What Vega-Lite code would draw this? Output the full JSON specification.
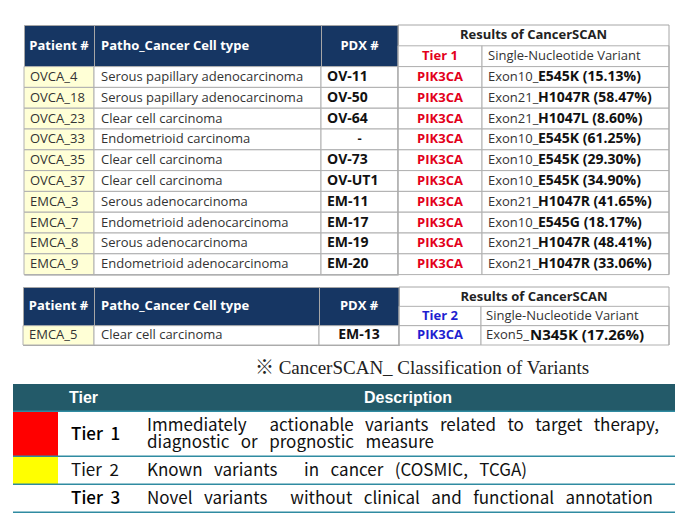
{
  "$schema": "https://vega.github.io/schema/vega-lite/v6.json",
  "padding": {"left": 12, "top": 24, "right": 0, "bottom": 4},
  "background": "white",
  "config": {"view": {"stroke": null}, "concat": {"spacing": 0}, "text": {"font": "Open Sans", "fontSize": 13, "color": "#333333"}},
  "datasets": {
    "t1": [
      {"r": "h", "patient": "Patient #", "patho": "Patho_Cancer Cell type", "pdx": "PDX #", "res": "Results of CancerSCAN"},
      {"r": "h2", "gene": "Tier 1", "exon": "Single-Nucleotide Variant"},
      {"r": "1", "patient": "OVCA_4", "patho": "Serous papillary adenocarcinoma", "pdx": "OV-11", "gene": "PIK3CA", "exon": "Exon10_", "mut": "E545K (15.13%)"},
      {"r": "2", "patient": "OVCA_18", "patho": "Serous papillary adenocarcinoma", "pdx": "OV-50", "gene": "PIK3CA", "exon": "Exon21_", "mut": "H1047R (58.47%)"},
      {"r": "3", "patient": "OVCA_23", "patho": "Clear cell carcinoma", "pdx": "OV-64", "gene": "PIK3CA", "exon": "Exon21_", "mut": "H1047L (8.60%)"},
      {"r": "4", "patient": "OVCA_33", "patho": "Endometrioid carcinoma", "pdx": "-", "gene": "PIK3CA", "exon": "Exon10_", "mut": "E545K (61.25%)"},
      {"r": "5", "patient": "OVCA_35", "patho": "Clear cell carcinoma", "pdx": "OV-73", "gene": "PIK3CA", "exon": "Exon10_", "mut": "E545K (29.30%)"},
      {"r": "6", "patient": "OVCA_37", "patho": "Clear cell carcinoma", "pdx": "OV-UT1", "gene": "PIK3CA", "exon": "Exon10_", "mut": "E545K (34.90%)"},
      {"r": "7", "patient": "EMCA_3", "patho": "Serous adenocarcinoma", "pdx": "EM-11", "gene": "PIK3CA", "exon": "Exon21_", "mut": "H1047R (41.65%)"},
      {"r": "8", "patient": "EMCA_7", "patho": "Endometrioid adenocarcinoma", "pdx": "EM-17", "gene": "PIK3CA", "exon": "Exon10_", "mut": "E545G (18.17%)"},
      {"r": "9", "patient": "EMCA_8", "patho": "Serous adenocarcinoma", "pdx": "EM-19", "gene": "PIK3CA", "exon": "Exon21_", "mut": "H1047R (48.41%)"},
      {"r": "10", "patient": "EMCA_9", "patho": "Endometrioid adenocarcinoma", "pdx": "EM-20", "gene": "PIK3CA", "exon": "Exon21_", "mut": "H1047R (33.06%)"}
    ],
    "t2": [
      {"r": "h", "patient": "Patient #", "patho": "Patho_Cancer Cell type", "pdx": "PDX #", "res": "Results of CancerSCAN"},
      {"r": "h2", "gene": "Tier 2", "exon": "Single-Nucleotide Variant"},
      {"r": "1", "patient": "EMCA_5", "patho": "Clear cell carcinoma", "pdx": "EM-13", "gene": "PIK3CA", "exon": "Exon5_", "mut": "N345K (17.26%)"}
    ],
    "t3": [
      {"r": "h", "tier": "Tier", "desc": "Description"},
      {"r": "1", "tier": "Tier\u00a0\u00a01", "desc": ["Immediately\u00a0\u00a0\u00a0\u00a0\u00a0 actionable\u00a0\u00a0 variants\u00a0\u00a0 related\u00a0\u00a0 to\u00a0\u00a0 target\u00a0\u00a0 therapy,", "diagnostic\u00a0\u00a0 or\u00a0\u00a0 prognostic\u00a0\u00a0 measure"]},
      {"r": "2", "tier": "Tier\u00a0\u00a02", "desc": "Known\u00a0\u00a0 variants\u00a0\u00a0\u00a0\u00a0\u00a0\u00a0 in\u00a0\u00a0 cancer\u00a0\u00a0 (COSMIC,\u00a0\u00a0 TCGA)"},
      {"r": "3", "tier": "Tier\u00a0\u00a03", "desc": "Novel\u00a0\u00a0 variants\u00a0\u00a0\u00a0\u00a0\u00a0 without\u00a0\u00a0 clinical\u00a0\u00a0 and\u00a0\u00a0 functional\u00a0\u00a0 annotation"}
    ],
    "cap": [{"t": "※ CancerSCAN_ Classification of Variants"}]
  },
  "vconcat": [
    {
      "spacing": 10,
      "vconcat": [
        {
          "spacing": 0, "bounds": "flush",
          "hconcat": [
            {"width": 11, "height": 10, "data": {"values": []}, "mark": "point", "encoding": {}},
            {
              "width": 70, "height": 249.6, "view": {"stroke": "#a6a6a6", "fill": "#163663"}, "data": {"name": "t1"},
              "layer": [
                {"transform": [{"filter": "datum.r != 'h' && datum.r != 'h2'"}], "mark": {"type": "rect", "fill": "#ffffd6", "stroke": "#b0b0b0", "strokeWidth": 1},
                 "encoding": {"x": {"datum": "c", "type": "nominal", "axis": null, "scale": {"type": "band", "paddingInner": 0, "paddingOuter": 0}},
                              "y": {"field": "r", "type": "nominal", "axis": null, "scale": {"type": "band", "domain": ["h", "h2", "1", "2", "3", "4", "5", "6", "7", "8", "9", "10"], "paddingInner": 0, "paddingOuter": 0}}}},
                {"transform": [{"filter": "datum.r == 'h'"}], "mark": {"type": "text", "color": "white", "fontWeight": "bold"},
                 "encoding": {"x": {"datum": "c", "type": "nominal", "axis": null},
                              "y": {"field": "r", "type": "nominal", "axis": null, "bandPosition": 1},
                              "text": {"field": "patient"}}},
                {"transform": [{"filter": "datum.r != 'h' && datum.r != 'h2'"}], "mark": {"type": "text", "align": "left", "dx": 6},
                 "encoding": {"x": {"datum": "c", "type": "nominal", "axis": null, "bandPosition": 0},
                              "y": {"field": "r", "type": "nominal", "axis": null},
                              "text": {"field": "patient"}}}
              ]
            },
            {
              "width": 227, "height": 249.6, "view": {"stroke": "#a6a6a6", "fill": "#163663"}, "data": {"name": "t1"},
              "layer": [
                {"transform": [{"filter": "datum.r != 'h' && datum.r != 'h2'"}], "mark": {"type": "rect", "fill": "white", "stroke": "#b0b0b0", "strokeWidth": 1},
                 "encoding": {"x": {"datum": "c", "type": "nominal", "axis": null, "scale": {"type": "band", "paddingInner": 0, "paddingOuter": 0}},
                              "y": {"field": "r", "type": "nominal", "axis": null, "scale": {"type": "band", "domain": ["h", "h2", "1", "2", "3", "4", "5", "6", "7", "8", "9", "10"], "paddingInner": 0, "paddingOuter": 0}}}},
                {"transform": [{"filter": "datum.r == 'h'"}], "mark": {"type": "text", "color": "white", "fontWeight": "bold", "align": "left", "dx": 7},
                 "encoding": {"x": {"datum": "c", "type": "nominal", "axis": null, "bandPosition": 0},
                              "y": {"field": "r", "type": "nominal", "axis": null, "bandPosition": 1},
                              "text": {"field": "patho"}}},
                {"transform": [{"filter": "datum.r != 'h' && datum.r != 'h2'"}], "mark": {"type": "text", "align": "left", "dx": 7},
                 "encoding": {"x": {"datum": "c", "type": "nominal", "axis": null, "bandPosition": 0},
                              "y": {"field": "r", "type": "nominal", "axis": null},
                              "text": {"field": "patho"}}}
              ]
            },
            {
              "width": 77, "height": 249.6, "view": {"stroke": "#a6a6a6", "fill": "#163663"}, "data": {"name": "t1"},
              "layer": [
                {"transform": [{"filter": "datum.r != 'h' && datum.r != 'h2'"}], "mark": {"type": "rect", "fill": "white", "stroke": "#b0b0b0", "strokeWidth": 1},
                 "encoding": {"x": {"datum": "c", "type": "nominal", "axis": null, "scale": {"type": "band", "paddingInner": 0, "paddingOuter": 0}},
                              "y": {"field": "r", "type": "nominal", "axis": null, "scale": {"type": "band", "domain": ["h", "h2", "1", "2", "3", "4", "5", "6", "7", "8", "9", "10"], "paddingInner": 0, "paddingOuter": 0}}}},
                {"transform": [{"filter": "datum.r == 'h'"}], "mark": {"type": "text", "color": "white", "fontWeight": "bold"},
                 "encoding": {"x": {"datum": "c", "type": "nominal", "axis": null},
                              "y": {"field": "r", "type": "nominal", "axis": null, "bandPosition": 1},
                              "text": {"field": "pdx"}}},
                {"transform": [{"filter": "datum.r != 'h' && datum.r != 'h2' && datum.pdx != '-'"}], "mark": {"type": "text", "align": "left", "dx": 6, "fontWeight": "bold", "fontSize": 14, "color": "#111111"},
                 "encoding": {"x": {"datum": "c", "type": "nominal", "axis": null, "bandPosition": 0},
                              "y": {"field": "r", "type": "nominal", "axis": null},
                              "text": {"field": "pdx"}}},
                {"transform": [{"filter": "datum.pdx == '-'"}], "mark": {"type": "text", "fontWeight": "bold", "color": "#111111"},
                 "encoding": {"x": {"datum": "c", "type": "nominal", "axis": null},
                              "y": {"field": "r", "type": "nominal", "axis": null},
                              "text": {"field": "pdx"}}}
              ]
            },
            {
              "width": 84, "height": 249.6, "data": {"name": "t1"},
              "layer": [
                {"transform": [{"filter": "datum.r != 'h'"}], "mark": {"type": "rect", "fill": "white", "stroke": "#b0b0b0", "strokeWidth": 1},
                 "encoding": {"x": {"datum": "c", "type": "nominal", "axis": null, "scale": {"type": "band", "paddingInner": 0, "paddingOuter": 0}},
                              "y": {"field": "r", "type": "nominal", "axis": null, "scale": {"type": "band", "domain": ["h", "h2", "1", "2", "3", "4", "5", "6", "7", "8", "9", "10"], "paddingInner": 0, "paddingOuter": 0}}}},
                {"transform": [{"filter": "datum.r == 'h'"}], "mark": {"type": "rule", "color": "#a6a6a6", "strokeWidth": 1},
                 "encoding": {"y": {"field": "r", "type": "nominal", "axis": null, "bandPosition": 0}}},
                {"transform": [{"filter": "datum.r == 'h'"}], "mark": {"type": "rule", "color": "#a6a6a6", "strokeWidth": 1},
                 "encoding": {"x": {"datum": "c", "type": "nominal", "axis": null, "bandPosition": 0}}},
                {"transform": [{"filter": "datum.r != 'h'"}], "mark": {"type": "text", "color": "#e3001b", "fontWeight": "bold"},
                 "encoding": {"x": {"datum": "c", "type": "nominal", "axis": null},
                              "y": {"field": "r", "type": "nominal", "axis": null},
                              "text": {"field": "gene"}}}
              ]
            },
            {
              "width": 187, "height": 249.6, "data": {"name": "t1"},
              "layer": [
                {"transform": [{"filter": "datum.r != 'h'"}], "mark": {"type": "rect", "fill": "white", "stroke": "#b0b0b0", "strokeWidth": 1},
                 "encoding": {"x": {"datum": "c", "type": "nominal", "axis": null, "scale": {"type": "band", "paddingInner": 0, "paddingOuter": 0}},
                              "y": {"field": "r", "type": "nominal", "axis": null, "scale": {"type": "band", "domain": ["h", "h2", "1", "2", "3", "4", "5", "6", "7", "8", "9", "10"], "paddingInner": 0, "paddingOuter": 0}}}},
                {"transform": [{"filter": "datum.r == 'h'"}], "mark": {"type": "rule", "color": "#a6a6a6", "strokeWidth": 1},
                 "encoding": {"y": {"field": "r", "type": "nominal", "axis": null, "bandPosition": 0}}},
                {"transform": [{"filter": "datum.r == 'h'"}], "mark": {"type": "rule", "color": "#a6a6a6", "strokeWidth": 1},
                 "encoding": {"x": {"datum": "c", "type": "nominal", "axis": null, "bandPosition": 1}}},
                {"transform": [{"filter": "datum.r == 'h'"}], "mark": {"type": "text", "fontWeight": "bold", "color": "#222222", "dx": -42},
                 "encoding": {"x": {"datum": "c", "type": "nominal", "axis": null},
                              "y": {"field": "r", "type": "nominal", "axis": null},
                              "text": {"field": "res"}}},
                {"transform": [{"filter": "datum.r != 'h'"}], "mark": {"type": "text", "align": "left", "dx": 6},
                 "encoding": {"x": {"datum": "c", "type": "nominal", "axis": null, "bandPosition": 0},
                              "y": {"field": "r", "type": "nominal", "axis": null},
                              "text": {"field": "exon"}}},
                {"transform": [{"filter": "datum.r != 'h' && datum.r != 'h2'"}], "mark": {"type": "text", "align": "left", "dx": 56, "fontWeight": "bold", "fontSize": 14, "color": "#111111"},
                 "encoding": {"x": {"datum": "c", "type": "nominal", "axis": null, "bandPosition": 0},
                              "y": {"field": "r", "type": "nominal", "axis": null},
                              "text": {"field": "mut"}}}
              ]
            }
          ]
        },
        {
          "spacing": 0, "bounds": "flush",
          "hconcat": [
            {"width": 10, "height": 10, "data": {"values": []}, "mark": "point", "encoding": {}},
            {
              "width": 71, "height": 58, "view": {"stroke": "#a6a6a6", "fill": "#163663"}, "data": {"name": "t2"},
              "layer": [
                {"transform": [{"filter": "datum.r != 'h' && datum.r != 'h2'"}], "mark": {"type": "rect", "fill": "#ffffd6", "stroke": "#b0b0b0", "strokeWidth": 1},
                 "encoding": {"x": {"datum": "c", "type": "nominal", "axis": null, "scale": {"type": "band", "paddingInner": 0, "paddingOuter": 0}},
                              "y": {"field": "r", "type": "nominal", "axis": null, "scale": {"type": "band", "domain": ["h", "h2", "1"], "paddingInner": 0, "paddingOuter": 0}}}},
                {"transform": [{"filter": "datum.r == 'h'"}], "mark": {"type": "text", "color": "white", "fontWeight": "bold"},
                 "encoding": {"x": {"datum": "c", "type": "nominal", "axis": null},
                              "y": {"field": "r", "type": "nominal", "axis": null, "bandPosition": 1},
                              "text": {"field": "patient"}}},
                {"transform": [{"filter": "datum.r != 'h' && datum.r != 'h2'"}], "mark": {"type": "text", "align": "left", "dx": 6},
                 "encoding": {"x": {"datum": "c", "type": "nominal", "axis": null, "bandPosition": 0},
                              "y": {"field": "r", "type": "nominal", "axis": null},
                              "text": {"field": "patient"}}}
              ]
            },
            {
              "width": 225, "height": 58, "view": {"stroke": "#a6a6a6", "fill": "#163663"}, "data": {"name": "t2"},
              "layer": [
                {"transform": [{"filter": "datum.r != 'h' && datum.r != 'h2'"}], "mark": {"type": "rect", "fill": "white", "stroke": "#b0b0b0", "strokeWidth": 1},
                 "encoding": {"x": {"datum": "c", "type": "nominal", "axis": null, "scale": {"type": "band", "paddingInner": 0, "paddingOuter": 0}},
                              "y": {"field": "r", "type": "nominal", "axis": null, "scale": {"type": "band", "domain": ["h", "h2", "1"], "paddingInner": 0, "paddingOuter": 0}}}},
                {"transform": [{"filter": "datum.r == 'h'"}], "mark": {"type": "text", "color": "white", "fontWeight": "bold", "align": "left", "dx": 7},
                 "encoding": {"x": {"datum": "c", "type": "nominal", "axis": null, "bandPosition": 0},
                              "y": {"field": "r", "type": "nominal", "axis": null, "bandPosition": 1},
                              "text": {"field": "patho"}}},
                {"transform": [{"filter": "datum.r != 'h' && datum.r != 'h2'"}], "mark": {"type": "text", "align": "left", "dx": 7},
                 "encoding": {"x": {"datum": "c", "type": "nominal", "axis": null, "bandPosition": 0},
                              "y": {"field": "r", "type": "nominal", "axis": null},
                              "text": {"field": "patho"}}}
              ]
            },
            {
              "width": 80, "height": 58, "view": {"stroke": "#a6a6a6", "fill": "#163663"}, "data": {"name": "t2"},
              "layer": [
                {"transform": [{"filter": "datum.r != 'h' && datum.r != 'h2'"}], "mark": {"type": "rect", "fill": "white", "stroke": "#b0b0b0", "strokeWidth": 1},
                 "encoding": {"x": {"datum": "c", "type": "nominal", "axis": null, "scale": {"type": "band", "paddingInner": 0, "paddingOuter": 0}},
                              "y": {"field": "r", "type": "nominal", "axis": null, "scale": {"type": "band", "domain": ["h", "h2", "1"], "paddingInner": 0, "paddingOuter": 0}}}},
                {"transform": [{"filter": "datum.r == 'h'"}], "mark": {"type": "text", "color": "white", "fontWeight": "bold"},
                 "encoding": {"x": {"datum": "c", "type": "nominal", "axis": null},
                              "y": {"field": "r", "type": "nominal", "axis": null, "bandPosition": 1},
                              "text": {"field": "pdx"}}},
                {"transform": [{"filter": "datum.r != 'h' && datum.r != 'h2'"}], "mark": {"type": "text", "fontWeight": "bold", "fontSize": 14, "color": "#111111"},
                 "encoding": {"x": {"datum": "c", "type": "nominal", "axis": null},
                              "y": {"field": "r", "type": "nominal", "axis": null},
                              "text": {"field": "pdx"}}}
              ]
            },
            {
              "width": 82, "height": 58, "data": {"name": "t2"},
              "layer": [
                {"transform": [{"filter": "datum.r != 'h'"}], "mark": {"type": "rect", "fill": "white", "stroke": "#b0b0b0", "strokeWidth": 1},
                 "encoding": {"x": {"datum": "c", "type": "nominal", "axis": null, "scale": {"type": "band", "paddingInner": 0, "paddingOuter": 0}},
                              "y": {"field": "r", "type": "nominal", "axis": null, "scale": {"type": "band", "domain": ["h", "h2", "1"], "paddingInner": 0, "paddingOuter": 0}}}},
                {"transform": [{"filter": "datum.r == 'h'"}], "mark": {"type": "rule", "color": "#a6a6a6", "strokeWidth": 1},
                 "encoding": {"y": {"field": "r", "type": "nominal", "axis": null, "bandPosition": 0}}},
                {"transform": [{"filter": "datum.r == 'h'"}], "mark": {"type": "rule", "color": "#a6a6a6", "strokeWidth": 1},
                 "encoding": {"x": {"datum": "c", "type": "nominal", "axis": null, "bandPosition": 0}}},
                {"transform": [{"filter": "datum.r != 'h'"}], "mark": {"type": "text", "color": "#1f1fd0", "fontWeight": "bold"},
                 "encoding": {"x": {"datum": "c", "type": "nominal", "axis": null},
                              "y": {"field": "r", "type": "nominal", "axis": null},
                              "text": {"field": "gene"}}}
              ]
            },
            {
              "width": 188, "height": 58, "data": {"name": "t2"},
              "layer": [
                {"transform": [{"filter": "datum.r != 'h'"}], "mark": {"type": "rect", "fill": "white", "stroke": "#b0b0b0", "strokeWidth": 1},
                 "encoding": {"x": {"datum": "c", "type": "nominal", "axis": null, "scale": {"type": "band", "paddingInner": 0, "paddingOuter": 0}},
                              "y": {"field": "r", "type": "nominal", "axis": null, "scale": {"type": "band", "domain": ["h", "h2", "1"], "paddingInner": 0, "paddingOuter": 0}}}},
                {"transform": [{"filter": "datum.r == 'h'"}], "mark": {"type": "rule", "color": "#a6a6a6", "strokeWidth": 1},
                 "encoding": {"y": {"field": "r", "type": "nominal", "axis": null, "bandPosition": 0}}},
                {"transform": [{"filter": "datum.r == 'h'"}], "mark": {"type": "rule", "color": "#a6a6a6", "strokeWidth": 1},
                 "encoding": {"x": {"datum": "c", "type": "nominal", "axis": null, "bandPosition": 1}}},
                {"transform": [{"filter": "datum.r == 'h'"}], "mark": {"type": "text", "fontWeight": "bold", "color": "#222222", "dx": -41},
                 "encoding": {"x": {"datum": "c", "type": "nominal", "axis": null},
                              "y": {"field": "r", "type": "nominal", "axis": null},
                              "text": {"field": "res"}}},
                {"transform": [{"filter": "datum.r != 'h'"}], "mark": {"type": "text", "align": "left", "dx": 5},
                 "encoding": {"x": {"datum": "c", "type": "nominal", "axis": null, "bandPosition": 0},
                              "y": {"field": "r", "type": "nominal", "axis": null},
                              "text": {"field": "exon"}}},
                {"transform": [{"filter": "datum.r != 'h' && datum.r != 'h2'"}], "mark": {"type": "text", "align": "left", "dx": 49, "fontWeight": "bold", "fontSize": 15, "color": "#111111"},
                 "encoding": {"x": {"datum": "c", "type": "nominal", "axis": null, "bandPosition": 0},
                              "y": {"field": "r", "type": "nominal", "axis": null},
                              "text": {"field": "mut"}}}
              ]
            }
          ]
        }
      ]
    },
    {
      "width": 662, "height": 38, "data": {"name": "cap"},
      "mark": {"type": "text", "font": "Liberation Serif, Noto Sans CJK KR", "fontSize": 19, "dx": 78, "dy": 3, "color": "#222222"},
      "encoding": {"x": {"datum": "c", "type": "nominal", "axis": null, "scale": {"type": "band", "paddingInner": 0, "paddingOuter": 0}},
                   "y": {"datum": "c", "type": "nominal", "axis": null, "scale": {"type": "band", "paddingInner": 0, "paddingOuter": 0}},
                   "text": {"field": "t"}}
    },
    {
      "width": 662, "height": 28, "view": {"fill": "#235a69"}, "data": {"name": "t3"},
      "transform": [{"filter": "datum.r == 'h'"}],
      "layer": [
        {"mark": {"type": "rule", "color": "#2f8ba1", "strokeWidth": 1.5, "yOffset": -0.75},
         "encoding": {"y": {"datum": "c", "type": "nominal", "axis": null, "bandPosition": 1, "scale": {"type": "band", "paddingInner": 0, "paddingOuter": 0}}}},
        {"mark": {"type": "text", "align": "left", "dx": 56, "color": "white", "fontWeight": "bold", "fontSize": 16, "font": "Liberation Sans Narrow, Liberation Sans"},
         "encoding": {"x": {"datum": "c", "type": "nominal", "axis": null, "bandPosition": 0, "scale": {"type": "band", "paddingInner": 0, "paddingOuter": 0}},
                      "y": {"datum": "c", "type": "nominal", "axis": null},
                      "text": {"field": "tier"}}},
        {"mark": {"type": "text", "dx": 64, "color": "white", "fontWeight": "bold", "fontSize": 16, "font": "Liberation Sans Narrow, Liberation Sans"},
         "encoding": {"x": {"datum": "c", "type": "nominal", "axis": null},
                      "y": {"datum": "c", "type": "nominal", "axis": null},
                      "text": {"field": "desc"}}}
      ]
    },
    {
      "spacing": 0, "bounds": "flush",
      "hconcat": [
        {
          "width": 45, "height": 45, "data": {"name": "t3"}, "transform": [{"filter": "datum.r == '1'"}],
          "layer": [
            {"mark": {"type": "rect"},
             "encoding": {"x": {"datum": "c", "type": "nominal", "axis": null, "scale": {"type": "band", "paddingInner": 0, "paddingOuter": 0}},
                          "y": {"datum": "c", "type": "nominal", "axis": null, "scale": {"type": "band", "paddingInner": 0, "paddingOuter": 0}},
                          "color": {"field": "tier", "type": "nominal", "legend": null, "scale": {"domain": ["Tier\u00a0\u00a01", "Tier\u00a0\u00a02", "Tier\u00a0\u00a03"], "range": ["#ff0000", "#ffff00", "#ffffff"]}}}},
            {"mark": {"type": "rule", "color": "#2f8ba1", "strokeWidth": 1.5, "yOffset": -0.75},
             "encoding": {"y": {"datum": "c", "type": "nominal", "axis": null, "bandPosition": 1}}}
          ]
        },
        {
          "width": 617, "height": 45, "data": {"name": "t3"}, "transform": [{"filter": "datum.r == '1'"}],
          "layer": [
            {"mark": {"type": "rule", "color": "#2f8ba1", "strokeWidth": 1.5, "yOffset": -0.75},
             "encoding": {"y": {"datum": "c", "type": "nominal", "axis": null, "bandPosition": 1, "scale": {"type": "band", "paddingInner": 0, "paddingOuter": 0}}}},
            {"mark": {"type": "text", "align": "left", "dx": 13, "fontSize": 17, "font": "Noto Sans CJK KR", "color": "#000000", "fontWeight": 500},
             "encoding": {"x": {"datum": "c", "type": "nominal", "axis": null, "bandPosition": 0, "scale": {"type": "band", "paddingInner": 0, "paddingOuter": 0}},
                          "y": {"datum": "c", "type": "nominal", "axis": null},
                          "text": {"field": "tier"}}},
            {"mark": {"type": "text", "align": "left", "dx": 89, "dy": -8.5, "fontSize": 17, "font": "Noto Sans CJK KR", "color": "#111111", "lineHeight": 17},
             "encoding": {"x": {"datum": "c", "type": "nominal", "axis": null, "bandPosition": 0},
                          "y": {"datum": "c", "type": "nominal", "axis": null},
                          "text": {"field": "desc"}}}
          ]
        }
      ]
    },
    {
      "spacing": 0, "bounds": "flush",
      "hconcat": [
        {
          "width": 45, "height": 28, "data": {"name": "t3"}, "transform": [{"filter": "datum.r == '2'"}],
          "layer": [
            {"mark": {"type": "rect"},
             "encoding": {"x": {"datum": "c", "type": "nominal", "axis": null, "scale": {"type": "band", "paddingInner": 0, "paddingOuter": 0}},
                          "y": {"datum": "c", "type": "nominal", "axis": null, "scale": {"type": "band", "paddingInner": 0, "paddingOuter": 0}},
                          "color": {"field": "tier", "type": "nominal", "legend": null, "scale": {"domain": ["Tier\u00a0\u00a01", "Tier\u00a0\u00a02", "Tier\u00a0\u00a03"], "range": ["#ff0000", "#ffff00", "#ffffff"]}}}},
            {"mark": {"type": "rule", "color": "#2f8ba1", "strokeWidth": 1.5, "yOffset": -0.75},
             "encoding": {"y": {"datum": "c", "type": "nominal", "axis": null, "bandPosition": 1}}}
          ]
        },
        {
          "width": 617, "height": 28, "data": {"name": "t3"}, "transform": [{"filter": "datum.r == '2'"}],
          "layer": [
            {"mark": {"type": "rule", "color": "#2f8ba1", "strokeWidth": 1.5, "yOffset": -0.75},
             "encoding": {"y": {"datum": "c", "type": "nominal", "axis": null, "bandPosition": 1, "scale": {"type": "band", "paddingInner": 0, "paddingOuter": 0}}}},
            {"mark": {"type": "text", "align": "left", "dx": 13, "fontSize": 17, "font": "Noto Sans CJK KR", "color": "#111111"},
             "encoding": {"x": {"datum": "c", "type": "nominal", "axis": null, "bandPosition": 0, "scale": {"type": "band", "paddingInner": 0, "paddingOuter": 0}},
                          "y": {"datum": "c", "type": "nominal", "axis": null},
                          "text": {"field": "tier"}}},
            {"mark": {"type": "text", "align": "left", "dx": 89, "fontSize": 17, "font": "Noto Sans CJK KR", "color": "#111111"},
             "encoding": {"x": {"datum": "c", "type": "nominal", "axis": null, "bandPosition": 0},
                          "y": {"datum": "c", "type": "nominal", "axis": null},
                          "text": {"field": "desc"}}}
          ]
        }
      ]
    },
    {
      "spacing": 0, "bounds": "flush",
      "hconcat": [
        {
          "width": 45, "height": 28, "data": {"name": "t3"}, "transform": [{"filter": "datum.r == '3'"}],
          "layer": [
            {"mark": {"type": "rect"},
             "encoding": {"x": {"datum": "c", "type": "nominal", "axis": null, "scale": {"type": "band", "paddingInner": 0, "paddingOuter": 0}},
                          "y": {"datum": "c", "type": "nominal", "axis": null, "scale": {"type": "band", "paddingInner": 0, "paddingOuter": 0}},
                          "color": {"field": "tier", "type": "nominal", "legend": null, "scale": {"domain": ["Tier\u00a0\u00a01", "Tier\u00a0\u00a02", "Tier\u00a0\u00a03"], "range": ["#ff0000", "#ffff00", "#ffffff"]}}}},
            {"mark": {"type": "rule", "color": "#2f8ba1", "strokeWidth": 1.5, "yOffset": -0.75},
             "encoding": {"y": {"datum": "c", "type": "nominal", "axis": null, "bandPosition": 1}}}
          ]
        },
        {
          "width": 617, "height": 28, "data": {"name": "t3"}, "transform": [{"filter": "datum.r == '3'"}],
          "layer": [
            {"mark": {"type": "rule", "color": "#2f8ba1", "strokeWidth": 1.5, "yOffset": -0.75},
             "encoding": {"y": {"datum": "c", "type": "nominal", "axis": null, "bandPosition": 1, "scale": {"type": "band", "paddingInner": 0, "paddingOuter": 0}}}},
            {"mark": {"type": "text", "align": "left", "dx": 13, "fontSize": 17, "font": "Noto Sans CJK KR", "color": "#000000", "fontWeight": 500},
             "encoding": {"x": {"datum": "c", "type": "nominal", "axis": null, "bandPosition": 0, "scale": {"type": "band", "paddingInner": 0, "paddingOuter": 0}},
                          "y": {"datum": "c", "type": "nominal", "axis": null},
                          "text": {"field": "tier"}}},
            {"mark": {"type": "text", "align": "left", "dx": 89, "fontSize": 17, "font": "Noto Sans CJK KR", "color": "#111111"},
             "encoding": {"x": {"datum": "c", "type": "nominal", "axis": null, "bandPosition": 0},
                          "y": {"datum": "c", "type": "nominal", "axis": null},
                          "text": {"field": "desc"}}}
          ]
        }
      ]
    }
  ]
}
